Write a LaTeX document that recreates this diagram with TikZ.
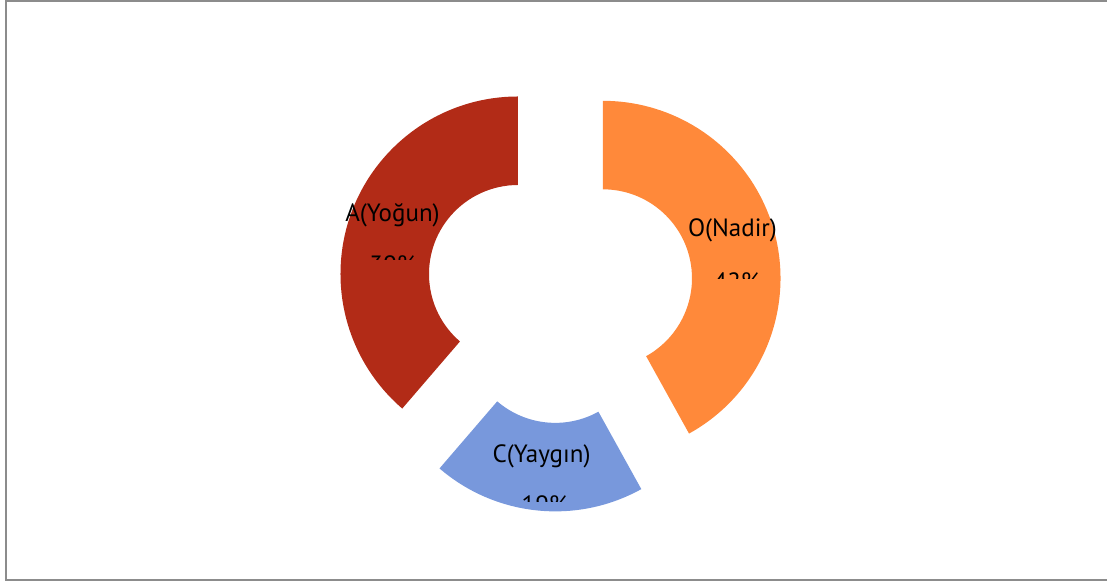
\documentclass[tikz,border=0pt]{standalone}
\usepackage{fontspec}
\setmainfont{PT Sans}
\usetikzlibrary{calc}
\definecolor{sliceA}{RGB}{178,43,23}
\definecolor{sliceO}{RGB}{255,137,58}
\definecolor{sliceC}{RGB}{120,152,220}
\definecolor{framegray}{RGB}{140,140,140}
\tikzset{
  frame/.style={draw=framegray, line width=2pt},
  slice-label/.style={font=\fontsize{25}{29}\selectfont, inner sep=0pt, anchor=base},
  slice-pct/.style={slice-label}
}
\newcommand{\ringslice}[3]{
  \pgfmathsetmacro{\midangle}{(#2+#3)/2}
  \fill[#1, shift={(\midangle:44.6)}]
    (#2:177.5) arc[start angle=#2, end angle=#3, radius=177.5]
    -- (#3:89) arc[start angle=#3, end angle=#2, radius=89] -- cycle;
}

\begin{document}
\begin{tikzpicture}[x=1pt, y=1pt]
  \useasboundingbox (0,0) rectangle (1107,581);
  \draw[frame] (5.5,1.5) rectangle (1112,580);

  \begin{scope}[shift={(559.8,291.5)}]
    % Doughnut slices
    \ringslice{sliceA}{90}{229.3}
    \ringslice{sliceO}{-61}{90}
    \ringslice{sliceC}{229.3}{299}
  \end{scope}

  % Labels
  \node[slice-label] (labelA) at (392.5,359) {A(Yoğun)};
  \node[slice-label] (labelO) at (732.5,344) {O(Nadir)};
  \node[slice-label] (labelC) at (541.5,118.7) {C(Yaygın)};

  % Percentages, cut off at the top
  \begin{scope}
    \clip (353,321) rectangle (433,351);
    \node[slice-pct] (pctA) at (393,307.5) {39\%};
  \end{scope}
  \begin{scope}
    \clip (697,302) rectangle (777,332);
    \node[slice-pct] (pctO) at (737,290.5) {42\%};
  \end{scope}
  \begin{scope}
    \clip (505,80) rectangle (585,110);
    \node[slice-pct] (pctC) at (545,67.5) {19\%};
  \end{scope}
\end{tikzpicture}
\end{document}
